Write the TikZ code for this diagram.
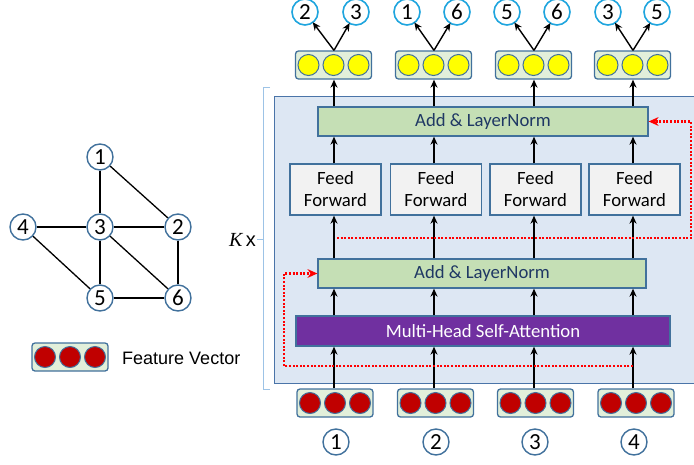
\documentclass[tikz,border=0pt]{standalone}
\usepackage{fontspec}
\setmainfont{Carlito}
\newfontfamily\arialf{Liberation Sans}
\newfontfamily\timesf{Liberation Serif}
\usetikzlibrary{arrows.meta,calc}
\definecolor{edgeblue}{HTML}{41719C}
\definecolor{contfill}{HTML}{DDE7F3}
\definecolor{contedge}{HTML}{4A74A8}
\definecolor{lnfill}{HTML}{C5DFB5}
\definecolor{fffill}{HTML}{F2F2F2}
\definecolor{mhsafill}{HTML}{7030A0}
\definecolor{vecfill}{HTML}{E2EFDA}
\definecolor{dotred}{HTML}{C00000}
\definecolor{dotyellow}{HTML}{FFFF00}
\definecolor{cyanedge}{HTML}{1FA5DE}
\definecolor{navytext}{HTML}{1F3864}
\definecolor{brackc}{HTML}{9DC3E6}
\definecolor{redline}{HTML}{FF0000}
\newcommand\vecbox[4]{%
  \node[vbox] (#1) at (#2,#3) {};
  \foreach \dx/\s in {-25/a,0/b,25/c}
    \node[vdot,fill=#4] (#1\s) at ({#2+\dx},#3) {};
}
\begin{document}
\begin{tikzpicture}[x=1pt,y=-1pt,
  txt/.style={font=\fontsize{18.7}{22}\selectfont},
  numtxt/.style={font=\fontsize{23}{24}\selectfont},
  vbox/.style={draw=edgeblue,line width=1.3pt,fill=vecfill,rounded corners=3pt,minimum width=76pt,minimum height=28pt,inner sep=0pt},
  vdot/.style={circle,draw=edgeblue,line width=1pt,minimum size=21pt,inner sep=0pt},
  gnode/.style={circle,draw=edgeblue,line width=1.4pt,fill=white,minimum size=26pt,inner sep=0pt,numtxt},
  tnode/.style={circle,draw=cyanedge,line width=1.6pt,fill=white,minimum size=26pt,inner sep=0pt,numtxt},
  lnbox/.style={draw=edgeblue,line width=1.3pt,fill=lnfill,minimum height=29pt,inner sep=0pt,txt,text=navytext},
  ffbox/.style={draw=edgeblue,line width=1.3pt,fill=fffill,minimum width=91pt,minimum height=51pt,inner sep=0pt,txt,align=center},
  arr/.style={-{Stealth[length=8pt,width=7pt]},line width=1.4pt,black},
  gedge/.style={line width=1.3pt,black},
  reddot/.style={redline,line width=2.2pt,dash pattern=on 2pt off 1.6pt},
  redarr/.style={reddot,-{Stealth[length=10pt,width=9pt,line width=0pt]}}
]
\useasboundingbox (0,0) rectangle (694,464);

% container
\node[draw=contedge,line width=1.4pt,fill=contfill,minimum width=430pt,minimum height=287pt,inner sep=0pt,anchor=north west] (cont) at (274,96) {};
% bracket and K x
\draw[brackc,line width=1pt] (270,87) -- (263,87) -- (263,389) -- (270,389);
\draw[brackc,line width=1pt] (257,239) -- (263,239);
\node[anchor=east,inner sep=0pt,font=\fontsize{20}{20}\selectfont] (kx) at (256,240) {{\timesf\itshape K}\,{\arialf x}};

% column coordinates
\coordinate (c1) at (334,0);
\coordinate (c2) at (434,0);
\coordinate (c3) at (534,0);
\coordinate (c4) at (633,0);

% boxes
\node[lnbox,minimum width=330pt] (ln2) at (483,121.5) {Add \& LayerNorm};
\node[lnbox,minimum width=328pt] (ln1) at (482,273.5) {Add \& LayerNorm};
\node[draw=edgeblue,line width=1.3pt,fill=mhsafill,minimum width=374pt,minimum height=30pt,inner sep=0pt,txt,text=white] (mhsa) at (483,331) {Multi-Head Self-Attention};
\node[ffbox] (ff1) at (335.5,189.5) {Feed\\Forward};
\node[ffbox] (ff2) at (436,189.5) {Feed\\Forward};
\node[ffbox] (ff3) at (535.5,189.5) {Feed\\Forward};
\node[ffbox] (ff4) at (634.5,189.5) {Feed\\Forward};

% vectors
\vecbox{b1}{335}{403}{dotred}
\vecbox{b2}{435.5}{403}{dotred}
\vecbox{b3}{535.5}{403}{dotred}
\vecbox{b4}{636}{403}{dotred}
\vecbox{y1}{333.5}{65}{dotyellow}
\vecbox{y2}{433.5}{65}{dotyellow}
\vecbox{y3}{533.5}{65}{dotyellow}
\vecbox{y4}{632.5}{65}{dotyellow}
\vecbox{lg}{70}{357}{dotred}
\node[anchor=west,inner sep=0pt,font=\arialf\fontsize{18}{20}\selectfont] (lgt) at (122,358) {Feature Vector};

% bottom index circles
\node[gnode] (i1) at (336,442) {1};
\node[gnode] (i2) at (436,442) {2};
\node[gnode] (i3) at (535,442) {3};
\node[gnode] (i4) at (634,442) {4};

% top output circles
\node[tnode] (t1a) at (305,12) {2};
\node[tnode] (t1b) at (356,12) {3};
\node[tnode] (t2a) at (407,12) {1};
\node[tnode] (t2b) at (457,12) {6};
\node[tnode] (t3a) at (507,12) {5};
\node[tnode] (t3b) at (557,12) {6};
\node[tnode] (t4a) at (608,12) {3};
\node[tnode] (t4b) at (657,12) {5};

% vertical arrows
\foreach \k in {1,2,3,4}{
  \draw[arr] (b\k.north -| c\k) -- (mhsa.south -| c\k);
  \draw[arr] (mhsa.north -| c\k) -- (ln1.south -| c\k);
  \draw[arr] (ln1.north -| c\k) -- (ff\k.south -| c\k);
  \draw[arr] (ff\k.north -| c\k) -- (ln2.south -| c\k);
  \draw[arr] (ln2.north -| c\k) -- (y\k.south -| c\k);
}
% output arrows
\draw[arr,shorten >=-1pt] (y1.north -| c1) -- (t1a);
\draw[arr,shorten >=-1pt] (y1.north -| c1) -- (t1b);
\draw[arr,shorten >=-1pt] (y2.north -| c2) -- (t2a);
\draw[arr,shorten >=-1pt] (y2.north -| c2) -- (t2b);
\draw[arr,shorten >=-1pt] (y3.north -| c3) -- (t3a);
\draw[arr,shorten >=-1pt] (y3.north -| c3) -- (t3b);
\draw[arr,shorten >=-1pt] (y4.north -| c4) -- (t4a);
\draw[arr,shorten >=-1pt] (y4.north -| c4) -- (t4b);

% residual connections
\coordinate (r1s) at (633,366);
\coordinate (r1c) at (284,366);
\draw[redarr] (r1s) -- (r1c) |- (ln1.west);
\coordinate (r2s) at (337,238);
\coordinate (r2c) at (691,238);
\draw[redarr] (r2s) -- (r2c) |- (ln2.east);

% graph
\node[gnode] (g1) at (100,157) {1};
\node[gnode] (g2) at (178,227) {2};
\node[gnode] (g3) at (100,227) {3};
\node[gnode] (g4) at (23,227) {4};
\node[gnode] (g5) at (100,298) {5};
\node[gnode] (g6) at (178,298) {6};
\foreach \a/\b in {1/3,1/2,4/3,3/2,4/5,3/5,3/6,2/6,5/6}
  \draw[gedge] (g\a) -- (g\b);
\end{tikzpicture}
\end{document}
